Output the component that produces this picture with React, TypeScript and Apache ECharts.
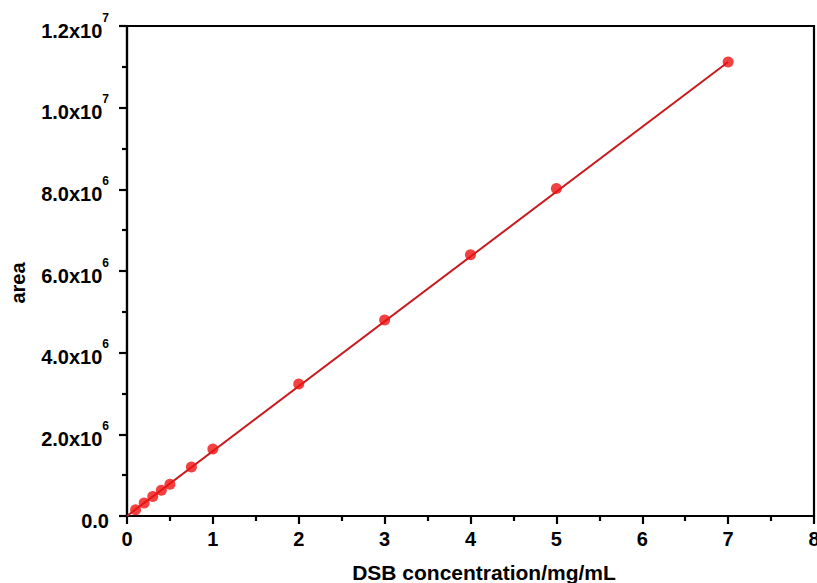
import * as echarts from "echarts";
import { useEffect, useRef } from "react";

// calibration points
const concentration = [0.1, 0.2, 0.3, 0.4, 0.5, 0.75, 1, 2, 3, 4, 5, 7];
const area = [
  0.155e6, 0.32e6, 0.48e6, 0.63e6, 0.78e6, 1.2e6, 1.64e6, 3.23e6, 4.8e6, 6.4e6, 8.02e6,
  1.112e7,
];

// fitted straight line, end points
const fitX = [0, 7];
const fitY = [0, 1.112e7];

const yTickLabels = [
  "0.0",
  "2.0x10^6",
  "4.0x10^6",
  "6.0x10^6",
  "8.0x10^6",
  "1.0x10^7",
  "1.2x10^7",
];

const FONT = "'Liberation Sans', Arial, Helvetica, sans-serif";

export default function App(): React.ReactElement {
  const ref = useRef<HTMLDivElement | null>(null);

  useEffect(() => {
    document.body.style.margin = "0";
    const el = ref.current;
    if (el === null) return;
    const chart = echarts.init(el, null, { renderer: "svg" });

    const axisLine = { lineStyle: { color: "#000", width: 2.2 } };
    const tickStyle = { color: "#000", width: 2.2 };

    chart.setOption({
      animation: false,
      backgroundColor: "#fff",
      textStyle: { fontFamily: FONT },
      grid: {
        left: 127,
        right: 3,
        top: 26,
        bottom: 67,
        outerBoundsMode: "none",
        show: true,
        borderColor: "#000",
        borderWidth: 2.2,
      },
      xAxis: {
        type: "value",
        min: 0,
        max: 8,
        interval: 1,
        splitLine: { show: false },
        axisLine,
        axisTick: { inside: false, length: 8, lineStyle: tickStyle },
        minorTick: { show: true, splitNumber: 2, length: 5, lineStyle: tickStyle },
        axisLabel: {
          color: "#000",
          fontFamily: FONT,
          fontWeight: "bold",
          fontSize: 20,
          margin: 13,
          hideOverlap: false,
        },
      },
      yAxis: {
        type: "value",
        min: 0,
        max: 1.2e7,
        interval: 2e6,
        splitLine: { show: false },
        axisLine,
        axisTick: { inside: false, length: 8, lineStyle: tickStyle },
        minorTick: { show: true, splitNumber: 2, length: 5, lineStyle: tickStyle },
        axisLabel: {
          margin: 18,
          formatter: (_v: number, i: number) => {
            const t = yTickLabels[i] ?? "";
            const [base, exp] = t.split("^");
            return exp ? `{b|${base}}{s|${exp}}` : `{b|${base}}`;
          },
          rich: {
            b: {
              color: "#000",
              fontFamily: FONT,
              fontWeight: "bold",
              fontSize: 20,
              lineHeight: 29,
              verticalAlign: "bottom",
            },
            s: {
              color: "#000",
              fontFamily: FONT,
              fontWeight: "bold",
              fontSize: 12,
              lineHeight: 29,
              verticalAlign: "top",
            },
          },
        },
      },
      graphic: [
        {
          type: "text",
          x: 18,
          y: 283,
          rotation: Math.PI / 2,
          style: {
            text: "area",
            fill: "#000",
            font: `bold 20px ${FONT}`,
            textAlign: "center",
            textVerticalAlign: "middle",
          },
        },
        {
          type: "text",
          x: 484,
          y: 572,
          style: {
            text: "DSB concentration/mg/mL",
            fill: "#000",
            font: `bold 21px ${FONT}`,
            textAlign: "center",
            textVerticalAlign: "middle",
          },
        },
      ],
      series: [
        {
          type: "line",
          data: fitX.map((x, i) => [x, fitY[i]]),
          symbol: "none",
          lineStyle: { color: "#c81a1e", width: 2 },
          z: 2,
        },
        {
          type: "scatter",
          data: concentration.map((x, i) => [x, area[i]]),
          symbol: "circle",
          symbolSize: 11,
          itemStyle: { color: "#ee1111" },
          z: 3,
        },
      ],
    });

    return () => chart.dispose();
  }, []);

  return <div ref={ref} style={{ width: 817, height: 583 }} />;
}
